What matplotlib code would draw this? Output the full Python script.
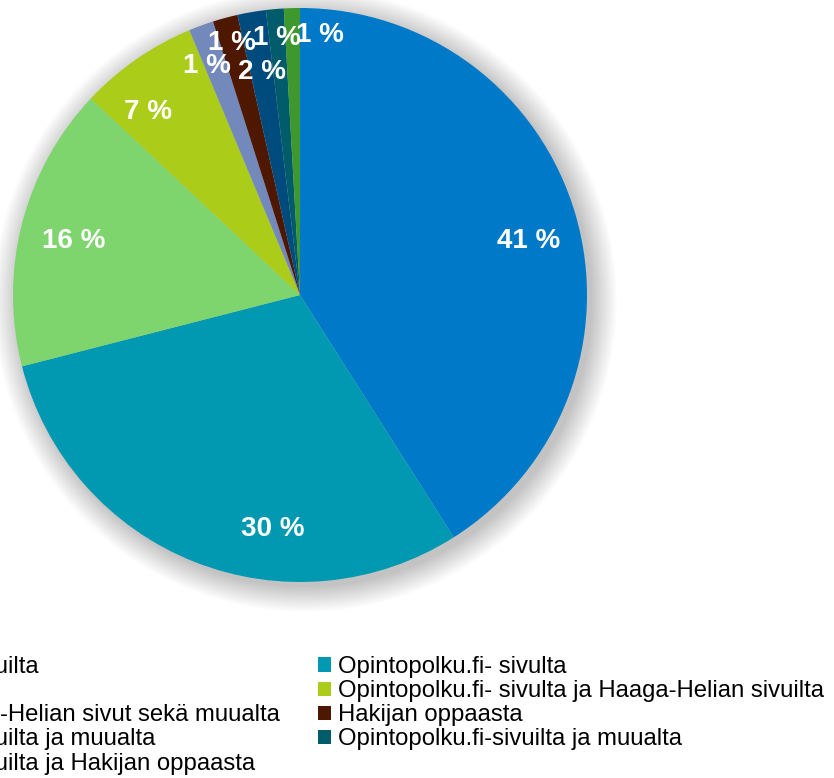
import matplotlib
matplotlib.use("Agg")
import matplotlib.pyplot as plt
from matplotlib.patches import Circle, Patch
import numpy as np

plt.rcParams['font.family'] = ['Liberation Sans', 'DejaVu Sans']

categories = [
    "Haaga-Helian sivuilta",
    "Opintopolku.fi- sivulta",
    "Muualta",
    "Opintopolku.fi- sivulta ja Haaga-Helian sivuilta",
    "Oppaasta, Haaga-Helian sivut sekä muualta",
    "Hakijan oppaasta",
    "Haaga-Helian sivuilta ja muualta",
    "Opintopolku.fi-sivuilta ja muualta",
    "Haaga-Helian sivuilta ja Hakijan oppaasta",
]
values = [41.0, 30.0, 16.0, 6.7, 1.4, 1.4, 1.6, 1.0, 0.9]
labels = ["41 %", "30 %", "16 %", "7 %", "1 %", "1 %", "2 %", "1 %", "1 %"]
colors = ["#0079C8", "#0099B1", "#7ED56E", "#ABCD19", "#7389BC",
          "#4E1800", "#004B7D", "#005C6A", "#3E982E"]

# label placement tweaks (angle offset in degrees, clockwise positive; radius fraction)
label_dang = [3, -15, -1, -5, -2, 0, 0, 0, 6]
label_rad = [0.82, 0.82, 0.81, 0.83, 0.86, 0.91, 0.79, 0.90, 0.91]

W, H, DPI = 834, 778, 100
fig = plt.figure(figsize=(W / DPI, H / DPI), dpi=DPI)
fig.patch.set_facecolor("white")

cx, cy, R = 300, 295, 287
ax = fig.add_axes([(cx - R) / W, (H - cy - R) / H, 2 * R / W, 2 * R / H])
ax.set_xlim(-1, 1)
ax.set_ylim(-1, 1)
ax.set_aspect("equal")
ax.axis("off")

# soft shadow
for i in range(20):
    r = 1.0 + 0.0045 * i
    ax.add_patch(Circle((0.018, -0.018), r, color="black", alpha=0.012,
                        lw=0, zorder=0, clip_on=False))

wedges, _ = ax.pie(values, colors=colors, startangle=90, counterclock=False,
                   radius=1.0, wedgeprops=dict(linewidth=0))
for w in wedges:
    w.set_zorder(2)

for w, lab, da, rr in zip(wedges, labels, label_dang, label_rad):
    mid = 0.5 * (w.theta1 + w.theta2) - da
    t = np.deg2rad(mid)
    ax.text(rr * np.cos(t), rr * np.sin(t), lab, ha="center", va="center",
            color="white", fontsize=20, fontweight="bold", zorder=5)
ax.set_xlim(-1, 1)
ax.set_ylim(-1, 1)

handles = [Patch(facecolor=c, edgecolor="none") for c in colors]
left_idx = [0, 2, 4, 6, 8]
right_idx = [1, 3, 5, 7]
common = dict(frameon=False, fontsize=17.2, handlelength=0.55, handleheight=0.55,
              handletextpad=0.3, labelspacing=0.09, borderpad=0, borderaxespad=0)
top = 1 - 656 / H
leg1 = fig.legend([handles[i] for i in left_idx], [categories[i] for i in left_idx],
                  loc="upper right", bbox_to_anchor=(280 / W, top), **common)
leg2 = fig.legend([handles[i] for i in right_idx], [categories[i] for i in right_idx],
                  loc="upper left", bbox_to_anchor=(318 / W, top), **common)

fig.savefig("out.png", dpi=DPI, facecolor="white")
